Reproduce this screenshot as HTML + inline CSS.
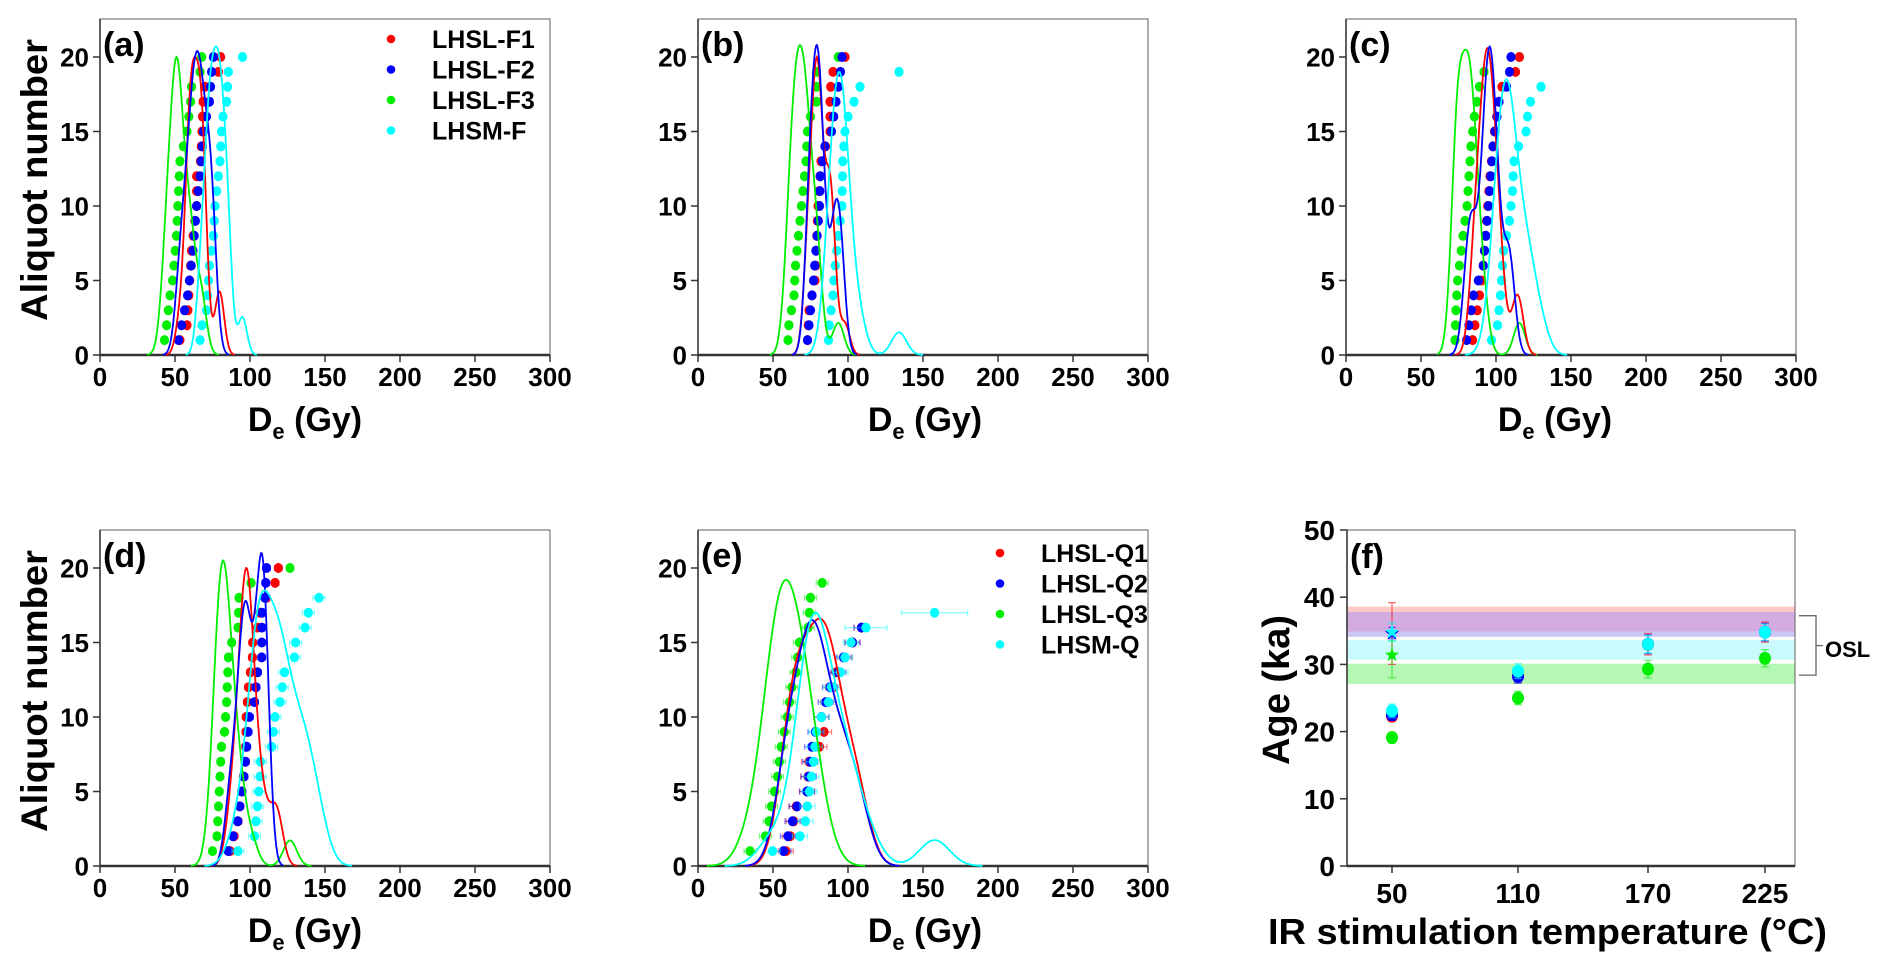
<!DOCTYPE html>
<html><head><meta charset="utf-8"><style>
html,body{margin:0;padding:0;background:#fff;}
svg{display:block;}
text{font-family:"Liberation Sans",Arial,sans-serif;font-weight:bold;fill:#000;}
</style></head><body>
<svg id="s" width="1892" height="973" viewBox="0 0 1892 973" xmlns="http://www.w3.org/2000/svg"></svg>
<script>
const S=document.getElementById('s');
let out='';
const C={r:'#ff0000',b:'#0000ff',g:'#00ee00',c:'#00ffff'};
function interp(a,N){const r=[];for(let y=1;y<=N;y++){let i=0;while(i<a.length-1&&a[i+1][0]<y)i++;let p=a[i],q=a[Math.min(i+1,a.length-1)];let v;if(y<=a[0][0])v=a[0][1];else if(y>=a[a.length-1][0])v=a[a.length-1][1];else v=p[1]+(q[1]-p[1])*(y-p[0])/(q[0]-p[0]);r.push(v);}return r;}
function panel(P){
 const x0=P.x0,yb=P.yb,sx=1.5,sy=14.9;const X=v=>x0+v*sx,Y=v=>yb-v*sy;
 out+=`<rect x="${x0}" y="${yb-336}" width="${300*sx}" height="336" fill="none" stroke="#777" stroke-width="1.2"/>`;
 out+=`<line x1="${x0}" y1="${yb}" x2="${x0+450}" y2="${yb}" stroke="#333" stroke-width="2.5"/><line x1="${x0}" y1="${yb}" x2="${x0}" y2="${yb-336}" stroke="#333" stroke-width="1.5"/>`;
 for(let v=0;v<=300;v+=50){out+=`<line x1="${X(v)}" y1="${yb}" x2="${X(v)}" y2="${yb+7}" stroke="#333" stroke-width="1.5"/><text x="${X(v)}" y="${yb+31}" font-size="26" text-anchor="middle">${v}</text>`;}
 for(let v=0;v<=20;v+=5){out+=`<line x1="${x0-7}" y1="${Y(v)}" x2="${x0}" y2="${Y(v)}" stroke="#333" stroke-width="1.5"/><text x="${x0-11}" y="${Y(v)+9.5}" font-size="26" text-anchor="end">${v}</text>`;}
 out+=`<text x="${x0+3}" y="${yb-299}" font-size="34">${P.lab}</text>`;
 out+=`<text x="${P.tx}" y="${yb+76}" font-size="34" text-anchor="middle">D<tspan font-size="22" dy="8">e</tspan><tspan dy="-8"> (Gy)</tspan></text>`;
 let dots='',curves='';
 for(const s of P.ser){
  const N=s.n||20;const d=interp(s.a,N);
  d.forEach((v,i)=>{const e=(s.err&&s.err[i+1])||s.e||0;
   if(e)dots+=`<g stroke="${C[s.c]}" stroke-opacity="0.45" stroke-width="1.3"><line x1="${X(v-e)}" y1="${Y(i+1)}" x2="${X(v+e)}" y2="${Y(i+1)}"/><line x1="${X(v-e)}" y1="${Y(i+1)-3}" x2="${X(v-e)}" y2="${Y(i+1)+3}"/><line x1="${X(v+e)}" y1="${Y(i+1)-3}" x2="${X(v+e)}" y2="${Y(i+1)+3}"/></g>`;
   dots+=`<ellipse cx="${X(v)}" cy="${Y(i+1)}" rx="4.6" ry="5" fill="${C[s.c]}"/>`;});
  const h=s.h;const mn=Math.min(...d)-3.2*h,mx=Math.max(...d)+3.2*h;let pts=[],mxv=0;
  for(let x=mn;x<=mx;x+=0.5){let f=0;for(const v of d)f+=Math.exp(-(x-v)*(x-v)/(2*h*h));pts.push([x,f]);if(f>mxv)mxv=f;}
  curves+=`<polyline fill="none" stroke="${C[s.c]}" stroke-width="1.8" points="${pts.map(p=>X(p[0]).toFixed(1)+','+Y(p[1]/mxv*s.pk).toFixed(1)).join(' ')}"/>`;
 }
 out+=dots+curves;
 if(P.leg){P.leg.forEach((l,i)=>{const y=P.ly+i*30.5;out+=`<circle cx="${P.lx}" cy="${y}" r="4.3" fill="${C[l[0]]}"/><text x="${P.lx+41}" y="${y+9}" font-size="25">${l[1]}</text>`;});}
}
panel({x0:100,yb:355,lab:'(a)',tx:305,lx:391,ly:39,leg:[['r','LHSL-F1'],['b','LHSL-F2'],['g','LHSL-F3'],['c','LHSM-F']],ser:[
 {c:'g',h:3.6,pk:20,a:[[1,43],[2,44.4],[4,46.7],[5,48.4],[8,51],[13,53.3],[14,55.6],[15,58],[17,60.4],[18,61],[19,66.7],[20,67.8]]},
 {c:'r',h:3,pk:20,a:[[1,53.3],[2,58],[7,61],[10,64.4],[12,64.4],[13,67],[15,68],[17,68.7],[18,70],[19,79],[20,80.4]]},
 {c:'b',h:3.3,pk:20.4,a:[[1,52.4],[4,58.4],[7,62],[10,64.4],[12,66.7],[15,69],[17,73],[19,74.4],[20,75.6]]},
 {c:'c',h:3,pk:20.7,a:[[1,66.7],[2,68],[3,71],[6,73],[8,75.6],[10,76.7],[13,80],[15,81],[16,82],[17,84.4],[19,85.6],[20,95]]}]});
panel({x0:698,yb:355,lab:'(b)',tx:925,ser:[
 {c:'g',h:3.8,pk:20.8,a:[[1,60],[2,60.6],[4,64],[6,65],[9,68],[11,70],[13,72],[15,73],[16,75],[17,79],[19,79],[20,93.5]]},
 {c:'r',h:3.2,pk:20,a:[[1,73],[3,74],[5,78],[10,80],[13,82],[15,88],[17,88],[18,88.5],[19,90],[20,98]]},
 {c:'b',h:3.2,pk:20.8,a:[[1,73],[5,77],[10,81],[12,81.5],[14,84.6],[15,89],[17,92],[19,95],[20,96]]},
 {c:'c',n:19,h:5,pk:19,a:[[1,87],[2,87.5],[4,90],[5,90.5],[8,93.5],[10,96],[13,96.5],[15,98],[16,100],[17,104],[18,108],[19,134]]}]});
panel({x0:1346,yb:355,lab:'(c)',tx:1555,ser:[
 {c:'g',h:3.8,pk:20.5,a:[[1,72.7],[3,73.3],[5,74.4],[8,78],[10,80.7],[13,82.7],[14,83.3],[16,85.6],[18,89],[19,92],[20,115.6]]},
 {c:'r',h:3.6,pk:20.6,e:1.2,a:[[1,84.4],[4,89],[6,91.5],[8,93],[12,96],[15,99],[17,102],[18,104],[19,113],[20,115.6]]},
 {c:'b',h:3.6,pk:20.7,e:1.2,a:[[1,80.4],[4,85],[6,91.5],[10,95],[14,98],[17,102],[18,107],[19,109],[20,110]]},
 {c:'c',n:18,h:5.5,pk:18.5,e:1.5,a:[[1,97],[2,101],[4,103],[7,105],[9,109],[11,111],[13,112],[14,115],[15,120],[16,121],[17,123],[18,130]]}]});
panel({x0:100,yb:866,lab:'(d)',tx:305,ser:[
 {c:'g',h:4.5,pk:20.5,e:2,a:[[1,75],[2,78],[4,79],[6,80],[8,81],[9,83],[11,84.4],[14,85.6],[15,87.8],[16,92],[18,92.7],[19,100.7],[20,126.7]]},
 {c:'r',h:4,pk:20,e:2.5,a:[[1,86.7],[3,92],[6,95.6],[7,97],[10,97.5],[12,99],[14,101.6],[15,101.8],[16,105],[17,106.7],[18,111],[19,116.7],[20,118.9]]},
 {c:'b',h:3.5,pk:21,e:2.5,a:[[1,85.6],[3,91.8],[6,96],[8,97.8],[10,99.6],[11,103],[13,105],[14,107.8],[17,108],[18,110],[20,111]]},
 {c:'c',n:18,h:7,pk:18.5,e:4,a:[[1,92],[2,103],[4,105],[6,106.7],[7,107],[8,114.4],[10,116.7],[11,120],[13,123],[14,129.6],[15,130.4],[16,136.7],[17,138.9],[18,146]]}]});
panel({x0:698,yb:866,lab:'(e)',tx:925,lx:1000,ly:553,leg:[['r','LHSL-Q1'],['b','LHSL-Q2'],['g','LHSL-Q3'],['c','LHSM-Q']],ser:[
 {c:'g',n:19,h:9,pk:19.2,e:4,a:[[1,34.7],[2,45],[3,47.4],[4,49],[6,53],[8,55.5],[10,59.5],[12,62.6],[13,65.3],[15,67.6],[16,73.4],[18,75],[19,82.8]]},
 {c:'r',n:16,h:8,pk:16.6,e:5,a:[[1,58.6],[2,61.5],[3,63.8],[4,65.5],[5,72.7],[7,74],[8,81],[9,84],[10,82.3],[11,86.8],[12,90],[13,92],[14,98],[15,103],[16,109]]},
 {c:'b',n:16,h:8,pk:16.5,e:5,a:[[1,57],[4,66],[5,72.7],[8,76],[9,78.3],[10,82.3],[12,88],[13,93.5],[14,97],[15,103],[16,109]]},
 {c:'c',n:17,h:10,pk:17,e:5,err:{16:14,17:22},a:[[1,49.7],[2,68],[3,71.6],[7,77],[9,79],[10,82.3],[11,87],[12,89],[13,95],[14,98],[15,102],[16,112],[17,157.7]]}]});
(function(){
 const xl=1347,xr=1795,yb=866,yt=530;const Y=v=>yb-v*6.72;const XT={50:1392,110:1518,170:1648,225:1765};
 const band=(a,b,c)=>{out+=`<rect x="${xl}" y="${Y(b)}" width="${xr-xl}" height="${Y(a)-Y(b)}" fill="${c}"/>`;};
 band(37.8,38.6,'#fcc9c4');band(34.9,37.8,'#d3abe0');band(34.1,34.9,'#cac7f5');band(30.7,33.6,'#c9fbfd');band(27.1,30.1,'#b4f8b4');
 out+=`<rect x="${xl}" y="${yt}" width="${xr-xl}" height="${yb-yt}" fill="none" stroke="#777" stroke-width="1.2"/>`;
 out+=`<line x1="${xl}" y1="${yb}" x2="${xr}" y2="${yb}" stroke="#333" stroke-width="2.5"/><line x1="${xl}" y1="${yb}" x2="${xl}" y2="${yt}" stroke="#333" stroke-width="1.5"/>`;
 for(let v=0;v<=50;v+=10)out+=`<line x1="${xl-7}" y1="${Y(v)}" x2="${xl}" y2="${Y(v)}" stroke="#333" stroke-width="1.5"/><text x="${xl-12}" y="${Y(v)+10}" font-size="28" text-anchor="end">${v}</text>`;
 for(const k in XT)out+=`<line x1="${XT[k]}" y1="${yb}" x2="${XT[k]}" y2="${yb+7}" stroke="#333" stroke-width="1.5"/><text x="${XT[k]}" y="${yb+37}" font-size="28" text-anchor="middle">${k}</text>`;
 out+=`<text x="1350" y="568" font-size="34">(f)</text>`;
 const eb=(x,v,lo,hi,c)=>{out+=`<g stroke="${c}" stroke-opacity="0.55" stroke-width="1.3"><line x1="${x}" y1="${Y(lo)}" x2="${x}" y2="${Y(hi)}"/><line x1="${x-4}" y1="${Y(lo)}" x2="${x+4}" y2="${Y(lo)}"/><line x1="${x-4}" y1="${Y(hi)}" x2="${x+4}" y2="${Y(hi)}"/></g>`;};
 const pt=(x,v,e,c)=>{eb(x,v,v-e,v+e,c);out+=`<ellipse cx="${x}" cy="${Y(v)}" rx="6" ry="6.5" fill="${c}"/>`;};
 const star=(x,v,c)=>{let p=[];for(let i=0;i<10;i++){const r=i%2?3:7.5,a=-Math.PI/2+i*Math.PI/5;p.push((x+r*Math.cos(a)).toFixed(1)+','+(Y(v)+r*Math.sin(a)).toFixed(1));}out+=`<polygon points="${p.join(' ')}" fill="${c}"/>`;};
 eb(1392,34.6,30,39.2,C.r);eb(1392,31.4,28,33.5,C.g);eb(1392,34.8,33.5,36.2,C.c);eb(1392,34.6,33.8,35.5,C.b);
 star(1392,34.6,C.r);star(1392,34.6,C.b);star(1392,34.8,C.c);star(1392,31.4,C.g);
 pt(1392,22.3,0.7,C.r);pt(1392,22.5,0.8,C.b);pt(1392,23.1,1,C.c);pt(1392,19.1,0.8,C.g);
 pt(1518,28.3,0.9,C.r);pt(1518,28.2,1,C.b);pt(1518,29,1.1,C.c);pt(1518,25,1,C.g);
 pt(1648,33,1.6,C.r);pt(1648,33,1.4,C.b);pt(1648,33,1.3,C.c);pt(1648,29.3,1.3,C.g);
 pt(1765,34.8,1.5,C.r);pt(1765,34.8,1.3,C.b);pt(1765,34.8,1.2,C.c);pt(1765,30.9,1.3,C.g);
 out+=`<polyline fill="none" stroke="#666" stroke-width="1.3" points="1799,${Y(37.25)} 1816,${Y(37.25)} 1816,${Y(28.4)} 1799,${Y(28.4)}"/><line x1="1816" y1="${Y(32.8)}" x2="1823" y2="${Y(32.8)}" stroke="#666" stroke-width="1.3"/>`;
 out+=`<text x="1825" y="657" font-size="22">OSL</text>`;
 out+=`<text x="1268" y="944" font-size="36" textLength="559" lengthAdjust="spacingAndGlyphs">IR stimulation temperature (°C)</text>`;
 out+=`<text transform="translate(1289,690) rotate(-90)" font-size="38" text-anchor="middle">Age (ka)</text>`;
})();
out+=`<text transform="translate(47,180) rotate(-90)" font-size="37" text-anchor="middle" textLength="282" lengthAdjust="spacingAndGlyphs">Aliquot number</text>`;
out+=`<text transform="translate(47,691) rotate(-90)" font-size="37" text-anchor="middle" textLength="282" lengthAdjust="spacingAndGlyphs">Aliquot number</text>`;
S.innerHTML=out;
</script>
</body></html>
